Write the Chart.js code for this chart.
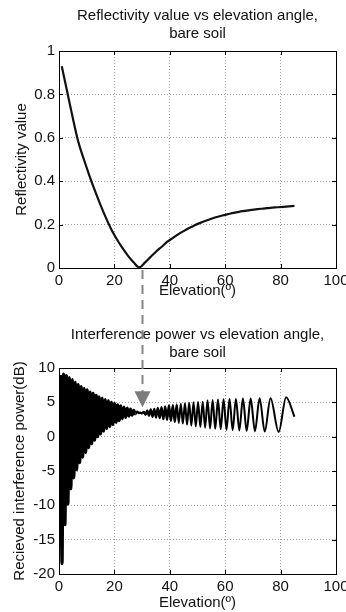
<!DOCTYPE html>
<html>
<head>
<meta charset="utf-8">
<script src="https://cdn.jsdelivr.net/npm/chart.js@4.4.0/dist/chart.umd.min.js"></script>
<style>
  body { margin: 0; background: #fff; overflow: hidden; }
  #wrap { position: relative; width: 346px; height: 612px; overflow: hidden; }
  #wrap canvas { position: absolute; left: 0; }
</style>
</head>
<body>
<div id="wrap">
  <canvas id="reflect" width="360" height="308" style="top:0"></canvas>
  <canvas id="power" width="360" height="304" style="top:308px"></canvas>
  <canvas id="arrow" width="346" height="612" style="top:0"></canvas>
</div>
<script>
// reflectivity vs elevation (top plot)
const elevation = [1, 3, 5, 7, 9, 11, 13, 15, 17, 19, 21, 23, 25, 27, 29, 31, 33, 35, 37, 39, 41, 43, 45, 47, 49, 51, 53, 55, 57, 59, 61, 63, 65, 67, 69, 71, 73, 75, 77, 79, 81, 83, 85];
const reflectivity = [0.93, 0.81, 0.69, 0.58, 0.5, 0.425, 0.355, 0.29, 0.23, 0.175, 0.13, 0.09, 0.055, 0.025, 0.003, 0.025, 0.05, 0.075, 0.097, 0.12, 0.138, 0.155, 0.17, 0.184, 0.197, 0.208, 0.218, 0.227, 0.235, 0.242, 0.248, 0.254, 0.259, 0.263, 0.267, 0.27, 0.273, 0.276, 0.278, 0.28, 0.282, 0.284, 0.286];

// interference power (bottom plot): maxima and minima of the fringes
const peakAngles = [0.56, 1.62, 2.68, 3.74, 4.81, 5.87, 6.94, 8.01, 9.08, 10.15, 11.23, 12.32, 13.40, 14.50, 15.59, 16.70, 17.81, 18.92, 20.05, 21.18, 22.32, 23.47, 24.63, 25.80, 26.99, 28.18, 29.39, 30.62, 31.86, 33.12, 34.39, 35.68, 37.00, 38.34, 39.70, 41.10, 42.52, 43.97, 45.47, 46.99, 48.57, 50.20, 51.88, 53.63, 55.46, 57.38, 59.41, 61.56, 63.87, 66.39, 69.19, 72.42, 76.36, 82.0];
const peakDb = [9.0, 9.1, 8.9, 8.6, 8.3, 7.9, 7.6, 7.3, 7.0, 6.8, 6.5, 6.3, 6.0, 5.8, 5.6, 5.4, 5.2, 5.0, 4.8, 4.65, 4.5, 4.3, 4.15, 4.0, 3.85, 3.65, 3.5, 3.6, 3.8, 3.95, 4.05, 4.2, 4.3, 4.4, 4.55, 4.6, 4.7, 4.8, 4.85, 4.95, 5.0, 5.05, 5.1, 5.3, 5.35, 5.4, 5.45, 5.5, 5.5, 5.55, 5.55, 5.6, 5.6, 5.75];
const troughAngles = [1.09, 2.15, 3.21, 4.28, 5.34, 6.40, 7.47, 8.54, 9.62, 10.69, 11.77, 12.86, 13.95, 15.04, 16.14, 17.25, 18.36, 19.48, 20.61, 21.75, 22.89, 24.05, 25.22, 26.39, 27.58, 28.79, 30.00, 31.24, 32.49, 33.75, 35.03, 36.34, 37.67, 39.02, 40.40, 41.80, 43.24, 44.71, 46.22, 47.78, 49.38, 51.03, 52.75, 54.54, 56.41, 58.38, 60.46, 62.69, 65.10, 67.75, 70.74, 74.27, 79.3];
const troughDb = [-18.5, -12.8, -9.8, -7.6, -6.0, -4.8, -3.8, -3.0, -2.3, -1.6, -1.0, -0.5, 0.0, 0.4, 0.8, 1.2, 1.5, 1.8, 2.1, 2.35, 2.6, 2.8, 3.0, 3.15, 3.3, 3.45, 3.4, 3.2, 3.05, 2.9, 2.8, 2.7, 2.55, 2.45, 2.3, 2.15, 2.0, 1.9, 1.75, 1.6, 1.5, 1.4, 1.3, 1.2, 1.15, 1.1, 1.0, 0.95, 0.9, 0.85, 0.8, 0.75, 0.7];
const endAngle = 85;
const endDb = 2.9;

const xTicks = [0, 20, 40, 60, 80, 100];
const reflectTicks = [0, 0.2, 0.4, 0.6, 0.8, 1];
const powerTicks = [-20, -15, -10, -5, 0, 5, 10];

// dashed arrow marking the Brewster angle
const arrowAngle = 30;
const arrowTipDb = 4.3;

Chart.defaults.font.family = '"Liberation Sans", Arial, sans-serif';
Chart.defaults.font.size = 15;
Chart.defaults.color = '#111';

const fringe = [];
peakAngles.forEach((a, i) => fringe.push({ x: a, y: peakDb[i] }));
troughAngles.forEach((a, i) => fringe.push({ x: a, y: troughDb[i] }));
fringe.push({ x: endAngle, y: endDb });
fringe.sort((p, q) => p.x - q.x);

// matlab style box with inward ticks
const boxPlugin = {
  id: 'box',
  afterDraw(chart) {
    const { ctx, chartArea: a, scales } = chart;
    ctx.save();
    ctx.strokeStyle = '#000';
    ctx.lineWidth = 1;
    ctx.strokeRect(Math.round(a.left) + 0.5, Math.round(a.top) + 0.5, Math.round(a.right - a.left), Math.round(a.bottom - a.top));
    ctx.beginPath();
    scales.x.ticks.forEach(t => {
      const px = Math.round(scales.x.getPixelForValue(t.value)) + 0.5;
      ctx.moveTo(px, a.bottom); ctx.lineTo(px, a.bottom - 4);
      ctx.moveTo(px, a.top); ctx.lineTo(px, a.top + 4);
    });
    scales.y.ticks.forEach(t => {
      const py = Math.round(scales.y.getPixelForValue(t.value)) + 0.5;
      ctx.moveTo(a.left, py); ctx.lineTo(a.left + 4, py);
      ctx.moveTo(a.right, py); ctx.lineTo(a.right - 4, py);
    });
    ctx.stroke();
    ctx.restore();
  }
};

function makeOptions(title, yTitle, yMin, yMax, yTicks, titlePad, yTitlePad, xAxisHeight, xTitlePad) {
  return {
    responsive: false,
    animation: false,
    layout: { padding: { left: 0, right: 24, top: 0, bottom: 0 } },
    plugins: {
      legend: { display: false },
      tooltip: { enabled: false },
      title: {
        display: true,
        text: title,
        fullSize: false,
        color: '#111',
        font: { size: 15, weight: 'normal', lineHeight: '17.5px' },
        padding: titlePad
      }
    },
    scales: {
      x: {
        type: 'linear',
        min: 0, max: 100,
        afterBuildTicks: s => { s.ticks = xTicks.map(v => ({ value: v })); },
        afterFit: s => { s.height = xAxisHeight; },
        grid: { color: '#a0a0a0', drawTicks: false, lineWidth: 1 },
        border: { display: false, dash: [1, 2] },
        ticks: { padding: 4, maxRotation: 0, color: '#111', callback: v => String(v) },
        title: { display: true, text: 'Elevation(º)', padding: { top: 0, bottom: xTitlePad }, color: '#111' }
      },
      y: {
        min: yMin, max: yMax,
        afterBuildTicks: s => { s.ticks = yTicks.map(v => ({ value: v })); },
        afterFit: s => { s.width = 59; },
        grid: { color: '#a0a0a0', drawTicks: false, lineWidth: 1 },
        border: { display: false, dash: [1, 2] },
        ticks: { padding: 4, color: '#111', callback: v => String(v) },
        title: { display: true, text: yTitle, padding: { top: yTitlePad, bottom: 0 }, color: '#111' }
      }
    }
  };
}

const reflectChart = new Chart(document.getElementById('reflect'), {
  type: 'line',
  data: {
    datasets: [{
      data: elevation.map((e, i) => ({ x: e, y: reflectivity[i] })),
      borderColor: '#111',
      borderWidth: 2.2,
      pointRadius: 0,
      cubicInterpolationMode: 'monotone'
    }]
  },
  options: makeOptions(['Reflectivity value vs elevation angle,', 'bare soil'], 'Reflectivity value',
    0, 1, reflectTicks, { top: 7.25, bottom: 8.75 }, 13, 40, 8),
  plugins: [boxPlugin]
});

// the low-angle fringes are so dense they print as a solid band
const fringeWidth = c => {
  const x = c.p0.parsed.x;
  if (x < 27) return 3.2;
  if (x < 42) return 2.4;
  return 2.0;
};

const powerChart = new Chart(document.getElementById('power'), {
  type: 'line',
  data: {
    datasets: [{
      data: fringe,
      borderColor: '#000',
      borderWidth: 2,
      pointRadius: 0,
      cubicInterpolationMode: 'monotone',
      segment: { borderWidth: fringeWidth }
    }]
  },
  options: makeOptions(['Interference power vs elevation angle,', 'bare soil'], 'Recieved interference power(dB)',
    -20, 10, powerTicks, { top: 18.25, bottom: 6.75 }, 11, 38, 0),
  plugins: [boxPlugin]
});

// arrow across both plots
const actx = document.getElementById('arrow').getContext('2d');
const powerTop = 308;
const ax = Math.round(reflectChart.scales.x.getPixelForValue(arrowAngle)) + 0.5;
const y0 = reflectChart.chartArea.bottom + 2;
const tipY = powerTop + powerChart.scales.y.getPixelForValue(arrowTipDb);
actx.strokeStyle = '#858585';
actx.lineWidth = 2;
actx.setLineDash([9, 6]);
actx.beginPath();
actx.moveTo(ax, y0);
actx.lineTo(ax, tipY - 15);
actx.stroke();
actx.setLineDash([]);
actx.fillStyle = '#7c7c7c';
actx.beginPath();
actx.moveTo(ax - 8, tipY - 16);
actx.lineTo(ax + 8, tipY - 16);
actx.lineTo(ax, tipY);
actx.closePath();
actx.fill();
</script>
</body>
</html>
